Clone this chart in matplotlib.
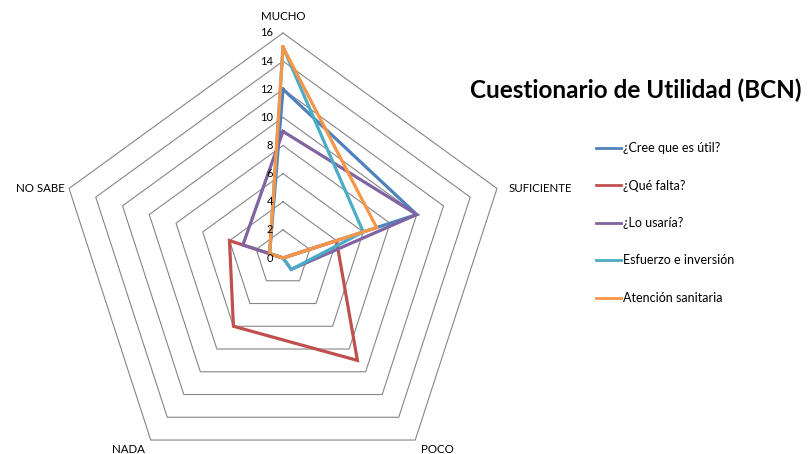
import numpy as np
import matplotlib
matplotlib.use("Agg")
import matplotlib.pyplot as plt

plt.rcParams['font.family'] = ['Lato', 'DejaVu Sans']

categories = ["MUCHO", "SUFICIENTE", "POCO", "NADA", "NO SABE"]
series_names = ["¿Cree que es útil?", "¿Qué falta?", "¿Lo usaría?",
                "Esfuerzo e inversión", "Atención sanitaria"]
cree_util = [12, 10, 0, 0, 1]
que_falta = [0, 4, 9, 6, 4]
lo_usaria = [9, 10, 1, 0, 3]
esfuerzo = [15, 6, 1, 0, 1]
atencion = [15, 7, 0, 0, 1]
tick_values = [0, 2, 4, 6, 8, 10, 12, 14, 16]
title = "Cuestionario de Utilidad (BCN)"

series = [cree_util, que_falta, lo_usaria, esfuerzo, atencion]
colors = ["#4F81BD", "#C0504D", "#8064A2", "#4BACC6", "#F79646"]

W, H = 810, 454
cx, cy = 283, 258
rmax = 16
px_per_unit = 225 / rmax

fig = plt.figure(figsize=(W / 100, H / 100), dpi=100)
ax = fig.add_axes([0, 0, 1, 1])
ax.set_xlim(-cx / px_per_unit, (W - cx) / px_per_unit)
ax.set_ylim(-(H - cy) / px_per_unit, cy / px_per_unit)
ax.axis("off")

n = len(categories)
angles = np.deg2rad(90 - 360 / n * np.arange(n))


def to_xy(vals):
    v = np.asarray(vals, dtype=float)
    a = np.append(angles, angles[0])
    v = np.append(v, v[0])
    return v * np.cos(a), v * np.sin(a)


# grid pentagons
for t in tick_values[1:]:
    gx, gy = to_xy([t] * n)
    ax.plot(gx, gy, color="#868686", lw=0.8, zorder=1)

# series
for vals, col, name in zip(series, colors, series_names):
    sx, sy = to_xy(vals)
    ax.plot(sx, sy, color=col, lw=2.3, label=name, zorder=3,
            solid_joinstyle="miter")

# tick labels
for t in tick_values:
    ax.text(-0.7, t, str(t), ha="right", va="center", fontsize=8,
            color="black", zorder=4)

# category labels
offsets = [(0, 8, "center", "bottom"), (8, 0, "left", "center"),
           (4, -3, "left", "top"), (-4, -3, "right", "top"),
           (-3, 0, "right", "center")]
for cat, a, (dx, dy, ha, va) in zip(categories, angles, offsets):
    x, y = rmax * np.cos(a), rmax * np.sin(a)
    ax.annotate(cat, (x, y), xytext=(dx, dy), textcoords="offset points",
                ha=ha, va=va, fontsize=8.3)

fig.text(636 / W, 1 - 90 / H, title, ha="center", va="center",
         fontsize=17.5, fontweight="bold")

leg = ax.legend(loc="upper left", bbox_to_anchor=(596 / W, 1 - 142 / H),
                bbox_transform=fig.transFigure, frameon=False,
                fontsize=9, handlelength=2.0, handletextpad=0.15,
                labelspacing=2.04, borderpad=0, borderaxespad=0)
for line in leg.get_lines():
    line.set_linewidth(2.0)

fig.savefig("out.png", dpi=100)
